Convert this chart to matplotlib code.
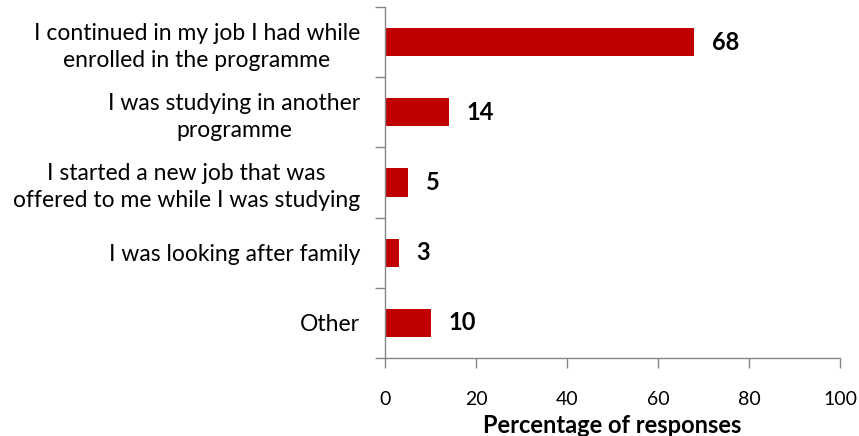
import matplotlib.pyplot as plt

# survey categories, top to bottom as drawn
categories = [
    "I continued in my job I had while\nenrolled in the programme",
    "I was studying in another\nprogramme",
    "I started a new job that was\noffered to me while I was studying",
    "I was looking after family",
    "Other",
]
percentages = [68, 14, 5, 3, 10]
x_ticks = [0, 20, 40, 60, 80, 100]

bar_color = "#C00000"
axis_color = "#868686"

plt.rcParams["font.family"] = ["Lato", "DejaVu Sans"]

fig = plt.figure(figsize=(8.59, 4.36), dpi=100)
ax = fig.add_axes([385 / 859, 78 / 436, 455 / 859, 351 / 436])

ypos = list(range(len(categories)))[::-1]
ax.barh(ypos, percentages, height=0.4, color=bar_color, zorder=2)

# value labels to the right of each bar
for y, v in zip(ypos, percentages):
    ax.annotate(str(v), xy=(v, y), xytext=(13, 0), textcoords="offset points",
                ha="left", va="center", fontsize=17, fontweight="bold", color="black")

ax.set_xlim(0, 100)
ax.set_ylim(-0.5, len(categories) - 0.5)
ax.set_xticks(x_ticks)
ax.set_xticklabels([str(t) for t in x_ticks], fontsize=14)

# ticks sit on category boundaries; labels sit centred on each bar
ax.set_yticks([i - 0.5 for i in range(len(categories) + 1)])
ax.set_yticklabels([])
ax.set_yticks(ypos, minor=True)
ax.set_yticklabels(categories, minor=True, fontsize=16.5, ha="right",
                   multialignment="center", linespacing=1.35)
ax.tick_params(axis="y", which="minor", length=0, pad=18)
ax.tick_params(axis="y", which="major", length=7, width=1, color=axis_color)
ax.tick_params(axis="x", length=7, width=1, color=axis_color, pad=17)

for side in ["top", "right"]:
    ax.spines[side].set_visible(False)
for side in ["left", "bottom"]:
    ax.spines[side].set_color(axis_color)
    ax.spines[side].set_linewidth(1)

ax.set_xlabel("Percentage of responses", fontsize=17, fontweight="bold", labelpad=4)

fig.savefig("out.png", dpi=100)
